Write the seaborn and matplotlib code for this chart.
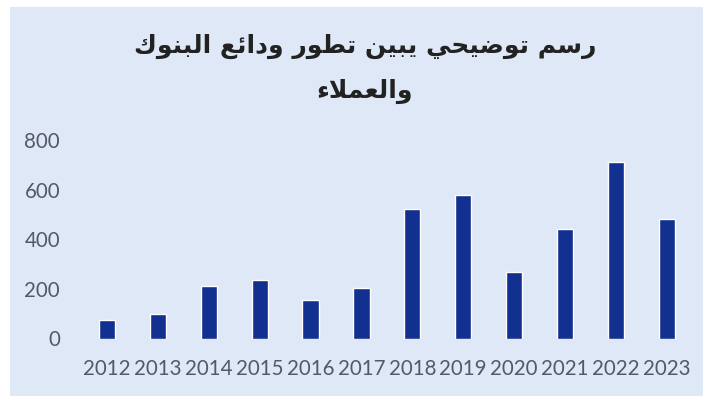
import matplotlib
matplotlib.use("Agg")
import matplotlib.pyplot as plt
from matplotlib.patches import Rectangle
import seaborn as sns
import pandas as pd

years = ["2012", "2013", "2014", "2015", "2016", "2017",
         "2018", "2019", "2020", "2021", "2022", "2023"]
deposits = [75, 97, 210, 235, 155, 205, 520, 580, 270, 440, 710, 480]
y_ticks = [0, 200, 400, 600, 800]

# Arabic title, written with Arabic presentation forms in visual order
# (matplotlib has no Arabic shaping): "رسم توضيحي يبين تطور ودائع البنوك" / "والعملاء"
title_line1 = ("\uFED9\uFEEE\uFEE8\uFE92\uFEDF\uFE8D "
               "\uFECA\uFE8B\uFE8D\uFEA9\uFEED "
               "\uFEAD\uFEEE\uFEC4\uFE97 "
               "\uFEE6\uFEF4\uFE92\uFEF3 "
               "\uFEF2\uFEA4\uFEF4\uFEBF\uFEEE\uFE97 "
               "\uFEE2\uFEB3\uFEAD")
title_line2 = "\uFE80\uFEFC\uFEE4\uFECC\uFEDF\uFE8D\uFEED"

df = pd.DataFrame({"year": years, "value": deposits})

sns.set_theme(style="white")
plt.rcParams["font.family"] = ["Lato", "DejaVu Sans"]

bg = "#dfe8f6"
bar_color = "#12308f"
text_gray = "#535a66"

fig = plt.figure(figsize=(7.11, 4.03), dpi=100, facecolor="white")
fig.patches.append(Rectangle((10 / 711, 7 / 403), 693 / 711, 389 / 403,
                             transform=fig.transFigure, facecolor=bg,
                             edgecolor="none", zorder=-5))
ax = fig.add_axes([81.6 / 711, (403 - 338.5) / 403, 610.5 / 711, 198.5 / 403])
ax.set_zorder(2)
ax.set_facecolor("none")

sns.barplot(data=df, x="year", y="value", color=bar_color, width=0.32,
            saturation=1, ax=ax)

ax.set_ylim(0, 800)
ax.set_yticks(y_ticks)
ax.set_yticklabels([str(t) for t in y_ticks])
ax.set_xlabel("")
ax.set_ylabel("")
for s in ax.spines.values():
    s.set_visible(False)
ax.tick_params(axis="both", length=0, labelsize=14.8, labelcolor=text_gray)
ax.tick_params(axis="x", pad=15)
ax.tick_params(axis="y", pad=15.5)

fig.text(0.513, 0.885, title_line1, ha="center", va="center",
         fontsize=18, fontweight="bold", color="#222222",
         family=["DejaVu Sans"])
fig.text(0.513, 0.772, title_line2, ha="center", va="center",
         fontsize=18, fontweight="bold", color="#222222",
         family=["DejaVu Sans"])

fig.savefig("out.png", dpi=100, facecolor="white")
